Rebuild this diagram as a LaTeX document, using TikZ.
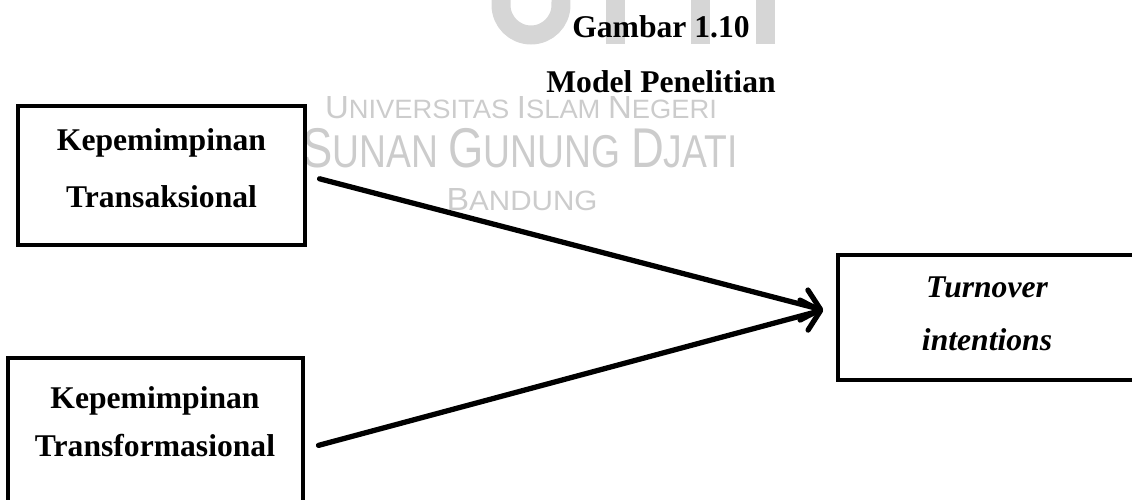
\documentclass[tikz,border=0pt]{standalone}
\usepackage{fontspec}
\setmainfont{Liberation Serif}
\newfontfamily\wmfont{Liberation Sans}
\usetikzlibrary{arrows.meta,positioning,calc}

% first letter large, rest smaller (watermark lettering)
\newcommand{\wmword}[4]{{\fontsize{#1}{#1}\selectfont #3}{\fontsize{#2}{#2}\selectfont #4}}

\tikzset{
  varbox/.style={draw, line width=2.3pt, fill=white, inner sep=0pt},
  vartext/.style={font=\bfseries\fontsize{18}{30}\selectfont, align=center, anchor=base, inner sep=0pt},
  titletext/.style={font=\bfseries\fontsize{18}{18}\selectfont, anchor=base, inner sep=0pt},
  wm/.style={text=black!20, anchor=base, inner sep=0pt},
  logo/.style={draw=black!16, line width=0.38cm},
  effect/.style={line width=3pt, line cap=round,
    -{Straight Barb[length=0.34cm,width=0.62cm,line cap=round,line join=round]}},
}

\begin{document}
\begin{tikzpicture}[x=0.02cm,y=-0.02cm]
\useasboundingbox (0,0) rectangle (1132,500);
\clip (0,0) rectangle (1132,500);

% watermark
\draw[logo] (501,-20) -- (501,5) arc[start angle=180,end angle=360,radius=0.6cm] -- (561,-20);
\draw[logo] (615,-20) -- (615,44);
\draw[logo] (700,-20) -- (700,44);
\draw[logo] (765,-20) -- (765,44);
\node[wm] (wmuniv) at (521,118) {\wmfont\fontsize{15.1}{15.1}\selectfont\scalebox{1.03}[1]{\wmword{18.2}{15.1}{U}{NIVERSITAS} \wmword{18.2}{15.1}{I}{SLAM} \wmword{18.2}{15.1}{N}{EGERI}}};
\node[wm] (wmsunan) at (520,167) {\wmfont\fontsize{26.2}{26.2}\selectfont\scalebox{0.81}[1]{\wmword{31.9}{26.2}{S}{UNAN} \wmword{31.9}{26.2}{G}{UNUNG} \wmword{31.9}{26.2}{D}{JATI}}};
\node[wm] (wmbdg) at (522,210) {\wmfont\scalebox{1.06}[1]{\wmword{18.2}{15.9}{B}{ANDUNG}}};

% title
\node[titletext] (fig) at (661,38) {Gambar 1.10};
\node[titletext] (figname) at (661,92) {Model Penelitian};

% variables
\node[varbox, minimum width=5.74cm, minimum height=2.78cm] (transaksi) at (161.5,175.5) {};
\node[vartext] (transaksitxt) at (161.5,207) {Kepemimpinan\\[2.4pt]Transaksional};
\node[varbox, minimum width=5.9cm, minimum height=3.64cm] (transform) at (155.5,449) {};
\node[vartext] (transformtxt) at (155,456) {Kepemimpinan\\[-2.7pt]Transformasional};
\node[varbox, minimum width=6.04cm, minimum height=2.5cm] (turnover) at (989,317.5) {};
\node[vartext, font=\bfseries\itshape\fontsize{18}{30}\selectfont] (turnovertxt) at (987,350) {Turnover\\intentions};

% paths
\coordinate (tip) at ([xshift=-0.26cm,yshift=0.15cm]turnover.west);
\draw[effect, shorten <=0.26cm] (transaksi.east) -- (tip);
\draw[effect, shorten <=0.28cm] (transform.east) -- (tip);
\end{tikzpicture}
\end{document}
